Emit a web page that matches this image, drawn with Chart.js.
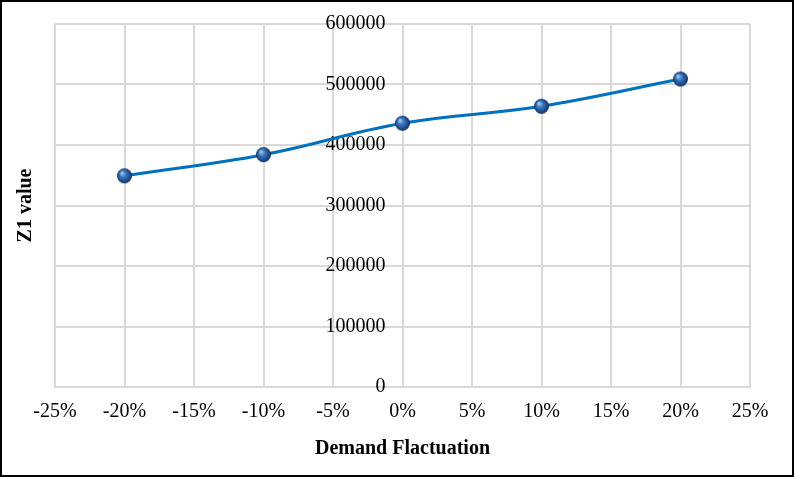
<!DOCTYPE html>
<html>
<head>
<meta charset="utf-8">
<script src="https://cdn.jsdelivr.net/npm/chart.js@4/dist/chart.umd.min.js"></script>
<style>
    html, body { margin: 0; padding: 0; background: #ffffff; }
    #wrap { width: 794px; height: 477px; position: relative; }
    canvas { display: block; }
</style>
</head>
<body>
<div id="wrap"><canvas id="chart" width="794" height="477"></canvas></div>
<script>
// 需求波動 (%) 與 Z1 值
const demandChange = [-20, -10, 0, 10, 20];
const z1Values = [349000, 384000, 436000, 464000, 509000];
const xTicks = [-25, -20, -15, -10, -5, 0, 5, 10, 15, 20, 25];
const yTicks = [0, 100000, 200000, 300000, 400000, 500000, 600000];

const gridColor = '#d9d9d9';
const textColor = '#000000';
const serif = "'Liberation Serif', 'Times New Roman', serif";

// 球形資料點
function makeBall(r) {
    const c = document.createElement('canvas');
    c.width = r * 2 + 2;
    c.height = r * 2 + 2;
    const g = c.getContext('2d');
    const cx = r + 1, cy = r + 1;
    const grad = g.createRadialGradient(cx - r * 0.35, cy - r * 0.4, r * 0.1, cx, cy, r);
    grad.addColorStop(0, '#9cc3ee');
    grad.addColorStop(0.35, '#3d78c0');
    grad.addColorStop(0.8, '#1b4a88');
    grad.addColorStop(1, '#0d2a55');
    g.beginPath();
    g.arc(cx, cy, r, 0, Math.PI * 2);
    g.fillStyle = grad;
    g.fill();
    return c;
}

// 外框
const frame = {
    id: 'frame',
    afterDraw(chart) {
        const ctx = chart.ctx;
        ctx.save();
        ctx.strokeStyle = '#000000';
        ctx.lineWidth = 2;
        ctx.strokeRect(1, 1, chart.width - 2, chart.height - 2);
        ctx.restore();
    }
};

// 置中 y 軸的刻度文字與軸線保持距離
const yLabelGap = {
    id: 'yLabelGap',
    afterLayout(chart) {
        const items = chart.scales.y.getLabelItems();
        items.forEach(it => { it.options.translation[0] -= 17; });
    }
};

new Chart(document.getElementById('chart'), {
    type: 'scatter',
    data: {
        datasets: [{
            label: 'Z1',
            data: demandChange.map((x, i) => ({ x: x, y: z1Values[i] })),
            showLine: true,
            borderColor: '#0070c0',
            borderWidth: 3,
            tension: 0.4,
            pointStyle: makeBall(7.5),
            pointRadius: 7.5,
            xAxisID: 'x',
            yAxisID: 'y'
        }]
    },
    options: {
        responsive: false,
        animation: false,
        devicePixelRatio: 1,
        layout: {
            padding: { left: 10, right: 44, top: 24, bottom: 13 }
        },
        plugins: {
            legend: { display: false },
            tooltip: { enabled: false }
        },
        scales: {
            x: {
                type: 'linear',
                position: 'bottom',
                min: -25,
                max: 25,
                afterBuildTicks: (scale) => { scale.ticks = xTicks.map(v => ({ value: v })); },
                ticks: {
                    color: textColor,
                    padding: 13,
                    maxRotation: 0,
                    autoSkip: false,
                    font: { family: serif, size: 20 },
                    callback: (v) => v + '%'
                },
                grid: { color: gridColor, lineWidth: 2, drawTicks: false },
                border: { color: gridColor, width: 2 },
                title: {
                    display: true,
                    text: 'Demand Flactuation',
                    color: textColor,
                    padding: { top: 0, bottom: 3 },
                    font: { family: serif, size: 20, weight: 'bold' }
                }
            },
            y: {
                type: 'linear',
                position: { x: 0 },
                min: 0,
                max: 600000,
                afterBuildTicks: (scale) => { scale.ticks = yTicks.map(v => ({ value: v })); },
                ticks: {
                    color: textColor,
                    autoSkip: false,
                    font: { family: serif, size: 20 },
                    callback: (v) => String(v)
                },
                grid: { color: gridColor, lineWidth: 2, drawTicks: false },
                border: { color: gridColor, width: 2 }
            },
            yTitle: {
                type: 'linear',
                position: 'left',
                min: 0,
                max: 1,
                ticks: { display: false },
                grid: { display: false, drawTicks: false },
                border: { display: false },
                title: {
                    display: true,
                    text: 'Z1 value',
                    color: textColor,
                    padding: { top: 4, bottom: 17 },
                    font: { family: serif, size: 20, weight: 'bold' }
                }
            }
        }
    },
    plugins: [frame, yLabelGap]
});
</script>
</body>
</html>
